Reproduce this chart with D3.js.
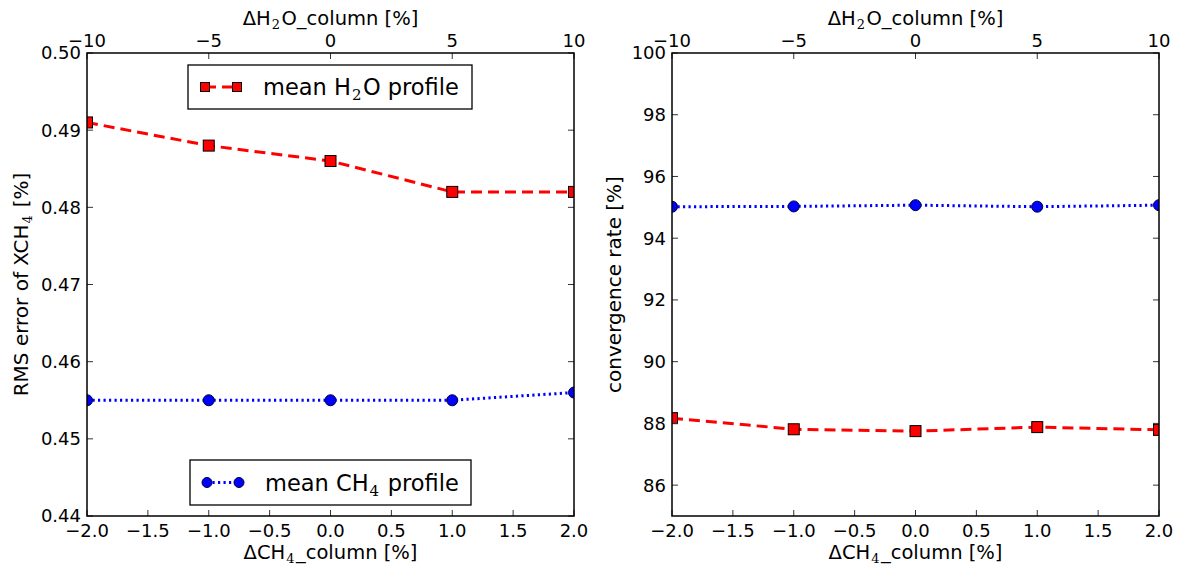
<!DOCTYPE html>
<html>
<head>
<meta charset="utf-8">
<script src="https://cdn.jsdelivr.net/npm/d3@7"></script>
<style>
  html, body { margin: 0; padding: 0; background: #fff; }
  svg { display: block; font-family: "DejaVu Sans", sans-serif; }
</style>
</head>
<body>
<svg id="chart" width="1186" height="566"></svg>
<script>
// Perturbation of the CH4 column (bottom axis) and the H2O column (top axis)
const ch4Offsets = [-2, -1, 0, 1, 2];
const h2oTicks = [-10, -5, 0, 5, 10];
const ch4Ticks = [-2.0, -1.5, -1.0, -0.5, 0.0, 0.5, 1.0, 1.5, 2.0];

// RMS error of XCH4 [%]
const rmsH2O = [0.491, 0.488, 0.486, 0.482, 0.482];
const rmsCH4 = [0.455, 0.455, 0.455, 0.455, 0.456];
const rmsTicks = [0.44, 0.45, 0.46, 0.47, 0.48, 0.49, 0.50];

// Convergence rate [%]
const convH2O = [88.17, 87.81, 87.75, 87.88, 87.79];
const convCH4 = [95.02, 95.03, 95.07, 95.02, 95.07];
const convTicks = [86, 88, 90, 92, 94, 96, 98, 100];

const svg = d3.select("#chart");
const minus = s => s.replace(/-/g, "\u2212");

const panels = [
  { x0: 87, x1: 574, y0: 53, y1: 516, ydom: [0.44, 0.50], yticks: rmsTicks,
    yfmt: d3.format(".2f"), ylabel: "RMS error of XCH", ylabelSub: "4", ylabelTail: " [%]", ylabelX: 28,
    red: rmsH2O, blue: rmsCH4, id: "a",
    legends: [
      { kind: "red", x: 188, y: 65, w: 284, h: 44, pre: "mean H", sub: "2", post: "O profile" },
      { kind: "blue", x: 190, y: 460, w: 281, h: 45, pre: "mean CH", sub: "4", post: " profile" }
    ] },
  { x0: 672, x1: 1159, y0: 53, y1: 516, ydom: [85, 100], yticks: convTicks,
    yfmt: d3.format("d"), ylabel: "convergence rate [%]", ylabelSub: null, ylabelTail: "", ylabelX: 621,
    red: convH2O, blue: convCH4, id: "b", legends: [] }
];

const dashedRed = "11,6";
const dottedBlue = "2.2,3.3";
const titleSize = 19.5;

function drawRedSquare(g, cx, cy, s) {
  g.append("rect").attr("x", cx - s / 2).attr("y", cy - s / 2)
    .attr("width", s).attr("height", s)
    .attr("fill", "#ff0000").attr("stroke", "#000").attr("stroke-width", 1);
}
function drawBlueDot(g, cx, cy, r) {
  g.append("circle").attr("cx", cx).attr("cy", cy).attr("r", r)
    .attr("fill", "#0000ff").attr("stroke", "#000033").attr("stroke-width", 1);
}
// Text with a lowered, smaller index (H2O, CH4)
function subText(sel, pre, sub, post, subSize, shift) {
  sel.append("tspan").text(pre);
  sel.append("tspan").attr("font-family", "DejaVu Serif").attr("font-size", subSize)
    .attr("dx", 1).attr("dy", shift).text(sub);
  sel.append("tspan").attr("dx", 1.5).attr("dy", -shift).text(post);
}

panels.forEach(p => {
  const x = d3.scaleLinear().domain([-2, 2]).range([p.x0, p.x1]);
  const xTop = d3.scaleLinear().domain([-10, 10]).range([p.x0, p.x1]);
  const y = d3.scaleLinear().domain(p.ydom).range([p.y1, p.y0]);

  svg.append("defs").append("clipPath").attr("id", "clip-" + p.id)
    .append("rect").attr("x", p.x0).attr("y", p.y0)
    .attr("width", p.x1 - p.x0).attr("height", p.y1 - p.y0);

  const plot = svg.append("g").attr("clip-path", "url(#clip-" + p.id + ")");
  const line = vals => d3.line().x((d, i) => x(ch4Offsets[i])).y(d => y(d))(vals);

  plot.append("path").attr("d", line(p.red)).attr("fill", "none")
    .attr("stroke", "#ff0000").attr("stroke-width", 3).attr("stroke-dasharray", dashedRed);
  plot.append("path").attr("d", line(p.blue)).attr("fill", "none")
    .attr("stroke", "#0000ff").attr("stroke-width", 3).attr("stroke-dasharray", dottedBlue);
  p.red.forEach((v, i) => drawRedSquare(plot, x(ch4Offsets[i]), y(v), 11));
  p.blue.forEach((v, i) => drawBlueDot(plot, x(ch4Offsets[i]), y(v), 5.5));

  // Inward ticks on all four sides
  const tl = 6, tickColor = "#333";
  const axes = svg.append("g");
  ch4Ticks.forEach(t => {
    axes.append("line").attr("x1", x(t)).attr("x2", x(t)).attr("y1", p.y1).attr("y2", p.y1 - tl)
      .attr("stroke", tickColor).attr("stroke-width", 1);
    axes.append("text").attr("x", x(t)).attr("y", p.y1 + 21).attr("text-anchor", "middle")
      .attr("font-size", 18).text(minus(d3.format(".1f")(t)));
  });
  h2oTicks.forEach(t => {
    axes.append("line").attr("x1", xTop(t)).attr("x2", xTop(t)).attr("y1", p.y0).attr("y2", p.y0 + tl)
      .attr("stroke", tickColor).attr("stroke-width", 1);
    axes.append("text").attr("x", xTop(t)).attr("y", p.y0 - 6).attr("text-anchor", "middle")
      .attr("font-size", 18).text(minus(String(t)));
  });
  p.yticks.forEach(t => {
    axes.append("line").attr("x1", p.x0).attr("x2", p.x0 + tl).attr("y1", y(t)).attr("y2", y(t))
      .attr("stroke", tickColor).attr("stroke-width", 1);
    axes.append("line").attr("x1", p.x1).attr("x2", p.x1 - tl).attr("y1", y(t)).attr("y2", y(t))
      .attr("stroke", tickColor).attr("stroke-width", 1);
    axes.append("text").attr("x", p.x0 - 6).attr("y", y(t)).attr("dy", "0.36em")
      .attr("text-anchor", "end").attr("font-size", 18).text(p.yfmt(t));
  });

  axes.append("rect").attr("x", p.x0).attr("y", p.y0)
    .attr("width", p.x1 - p.x0).attr("height", p.y1 - p.y0)
    .attr("fill", "none").attr("stroke", "#000").attr("stroke-width", 1.5);

  const cx = (p.x0 + p.x1) / 2;
  // Bottom axis title
  const bt = axes.append("text").attr("x", cx).attr("y", 559).attr("text-anchor", "middle").attr("font-size", titleSize);
  subText(bt, "\u0394CH", "4", "_column [%]", 13, 4);
  // Top axis title
  const tt = axes.append("text").attr("x", cx).attr("y", 25).attr("text-anchor", "middle").attr("font-size", titleSize);
  subText(tt, "\u0394H", "2", "O_column [%]", 13, 4);
  // Y axis title
  const cy = (p.y0 + p.y1) / 2;
  const yt = axes.append("text").attr("transform", `translate(${p.ylabelX},${cy}) rotate(-90)`)
    .attr("text-anchor", "middle").attr("font-size", 20);
  if (p.ylabelSub) subText(yt, p.ylabel, p.ylabelSub, p.ylabelTail, 13, 4);
  else yt.text(p.ylabel);

  // Legends
  p.legends.forEach(L => {
    const lg = svg.append("g");
    lg.append("rect").attr("x", L.x).attr("y", L.y).attr("width", L.w).attr("height", L.h)
      .attr("fill", "#fff").attr("stroke", "#000").attr("stroke-width", 1.3);
    const my = L.y + L.h / 2;
    const mx1 = L.x + 17, mx2 = L.x + 49;
    if (L.kind === "red") {
      lg.append("line").attr("x1", mx1).attr("x2", mx2).attr("y1", my).attr("y2", my)
        .attr("stroke", "#ff0000").attr("stroke-width", 3).attr("stroke-dasharray", dashedRed);
      drawRedSquare(lg, mx1, my, 9);
      drawRedSquare(lg, mx2, my, 9);
    } else {
      lg.append("line").attr("x1", mx1).attr("x2", mx2).attr("y1", my).attr("y2", my)
        .attr("stroke", "#0000ff").attr("stroke-width", 3).attr("stroke-dasharray", dottedBlue);
      drawBlueDot(lg, mx1, my, 5);
      drawBlueDot(lg, mx2, my, 5);
    }
    const txt = lg.append("text").attr("x", L.x + 75).attr("y", my + 8).attr("font-size", 22.5);
    subText(txt, L.pre, L.sub, L.post, 15, 5);
  });
});
</script>
</body>
</html>
